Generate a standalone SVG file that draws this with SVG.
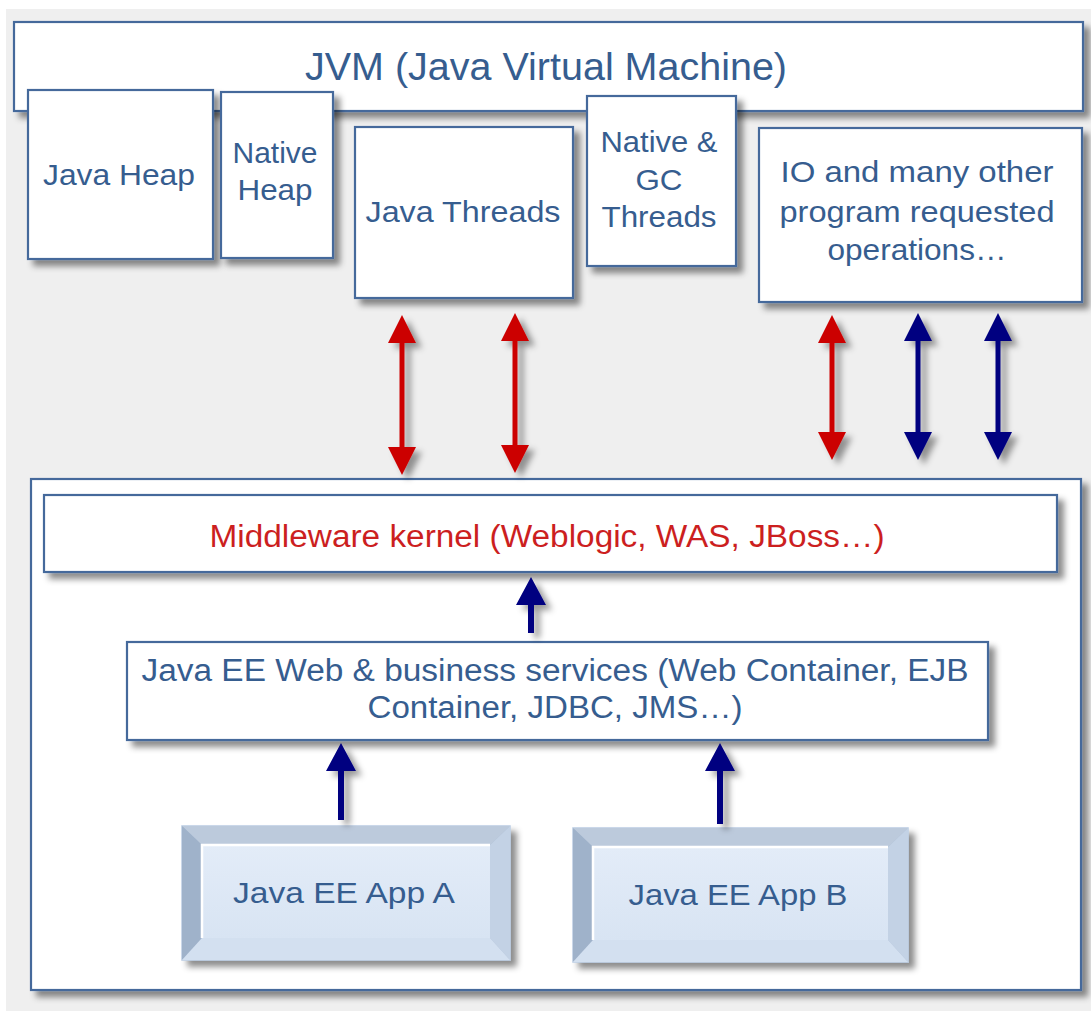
<svg xmlns="http://www.w3.org/2000/svg" width="1091" height="1011" viewBox="0 0 1091 1011">
<defs>
<filter id="sh" x="-10%" y="-10%" width="130%" height="130%">
<feDropShadow dx="6" dy="6" stdDeviation="3" flood-color="#000" flood-opacity="0.45"/>
</filter>
<filter id="ash" x="-50%" y="-10%" width="250%" height="130%">
<feDropShadow dx="6" dy="5" stdDeviation="3" flood-color="#000" flood-opacity="0.4"/>
</filter>
<linearGradient id="face" x1="0" y1="0" x2="0" y2="1">
<stop offset="0" stop-color="#e3ecf8"/>
<stop offset="1" stop-color="#d8e4f3"/>
</linearGradient>
</defs>
<style>
.box{fill:#fff;stroke:#44699b;stroke-width:2.2}
.t{font-family:"Liberation Sans",Arial,sans-serif;fill:#365d8f;text-anchor:middle}
.red{fill:#cc1f1f}
.ar{fill:#cc0000}
.ab{fill:#000080}
</style>
<rect x="6" y="9" width="1085" height="1002" fill="#efefef"/>

<g id="jvm">
<rect class="box" x="14" y="22" width="1069" height="89" filter="url(#sh)"/>
<text class="t" x="546" y="80" font-size="38" textLength="482" lengthAdjust="spacingAndGlyphs">JVM (Java Virtual Machine)</text>
</g>
<g id="java-heap">
<rect class="box" x="28" y="90" width="185" height="169" filter="url(#sh)"/>
<text class="t" x="119" y="185" font-size="30" textLength="152" lengthAdjust="spacingAndGlyphs">Java Heap</text>
</g>
<g id="native-heap">
<rect class="box" x="221" y="92" width="112" height="166" filter="url(#sh)"/>
<text class="t" x="275" y="163" font-size="30" textLength="85" lengthAdjust="spacingAndGlyphs">Native</text>
<text class="t" x="275" y="200" font-size="30" textLength="75" lengthAdjust="spacingAndGlyphs">Heap</text>
</g>
<g id="java-threads">
<rect class="box" x="355" y="127" width="218" height="171" filter="url(#sh)"/>
<text class="t" x="463" y="222" font-size="30" textLength="195" lengthAdjust="spacingAndGlyphs">Java Threads</text>
</g>
<g id="native-gc-threads">
<rect class="box" x="587" y="96" width="149" height="170" filter="url(#sh)"/>
<text class="t" x="659" y="152" font-size="30" textLength="117" lengthAdjust="spacingAndGlyphs">Native &amp;</text>
<text class="t" x="659" y="190" font-size="30" textLength="47" lengthAdjust="spacingAndGlyphs">GC</text>
<text class="t" x="659" y="227" font-size="30" textLength="115" lengthAdjust="spacingAndGlyphs">Threads</text>
</g>
<g id="io-ops">
<rect class="box" x="759" y="128" width="323" height="174" filter="url(#sh)"/>
<text class="t" x="917" y="182" font-size="30" textLength="273" lengthAdjust="spacingAndGlyphs">IO and many other</text>
<text class="t" x="917" y="222" font-size="30" textLength="275" lengthAdjust="spacingAndGlyphs">program requested</text>
<text class="t" x="917" y="260" font-size="30" textLength="179" lengthAdjust="spacingAndGlyphs">operations…</text>
</g>

<g id="middleware-container">
<rect class="box" x="31" y="479" width="1050" height="511" filter="url(#sh)"/>
</g>
<g id="middleware-kernel">
<rect class="box" x="44" y="495" width="1013" height="77" filter="url(#sh)"/>
<text class="t red" x="547" y="547" font-size="31" textLength="675" lengthAdjust="spacingAndGlyphs">Middleware kernel (Weblogic, WAS, JBoss…)</text>
</g>
<g id="javaee-services">
<rect class="box" x="127" y="642" width="861" height="98" filter="url(#sh)"/>
<text class="t" x="555" y="681" font-size="31" textLength="827" lengthAdjust="spacingAndGlyphs">Java EE Web &amp; business services (Web Container, EJB</text>
<text class="t" x="555" y="718" font-size="31" textLength="375" lengthAdjust="spacingAndGlyphs">Container, JDBC, JMS…)</text>
</g>
<g id="app-a">
<g filter="url(#sh)">
<rect x="182" y="826" width="328" height="134" fill="#a9bbd2" stroke="#b9cbe2" stroke-width="1.5"/>
<polygon points="182,826 510,826 490,845 202,845" fill="#bccadc"/>
<polygon points="182,826 202,845 202,938 182,960" fill="#9fb2ca"/>
<polygon points="510,826 510,960 490,938 490,845" fill="#c3d2e5"/>
<polygon points="182,960 202,938 490,938 510,960" fill="#d3e0f0"/>
<rect x="202" y="845" width="288" height="93" fill="url(#face)"/>
<polyline points="202,938 202,845 490,845" fill="none" stroke="#fff" stroke-width="2.5"/>
</g>
<text class="t" x="344" y="903" font-size="30" textLength="222" lengthAdjust="spacingAndGlyphs">Java EE App A</text>
</g>
<g id="app-b">
<g filter="url(#sh)">
<rect x="573" y="828" width="335" height="134" fill="#a9bbd2" stroke="#b9cbe2" stroke-width="1.5"/>
<polygon points="573,828 908,828 888,847 593,847" fill="#bccadc"/>
<polygon points="573,828 593,847 593,940 573,962" fill="#9fb2ca"/>
<polygon points="908,828 908,962 888,940 888,847" fill="#c3d2e5"/>
<polygon points="573,962 593,940 888,940 908,962" fill="#d3e0f0"/>
<rect x="593" y="847" width="295" height="93" fill="url(#face)"/>
<polyline points="593,940 593,847 888,847" fill="none" stroke="#fff" stroke-width="2.5"/>
</g>
<text class="t" x="738" y="905" font-size="30" textLength="219" lengthAdjust="spacingAndGlyphs">Java EE App B</text>
</g>

<g id="connectors" filter="url(#ash)">
<path class="ar" d="M402,315 L416,343 L404.5,343 L404.5,447 L416,447 L402,475 L388,447 L399.5,447 L399.5,343 L388,343 Z"/>
<path class="ar" d="M515,313 L529,341 L517.5,341 L517.5,445 L529,445 L515,473 L501,445 L512.5,445 L512.5,341 L501,341 Z"/>
<path class="ar" d="M832,315 L846,343 L834.5,343 L834.5,432 L846,432 L832,460 L818,432 L829.5,432 L829.5,343 L818,343 Z"/>
<path class="ab" d="M918,313 L932,341 L920.5,341 L920.5,432 L932,432 L918,460 L904,432 L915.5,432 L915.5,341 L904,341 Z"/>
<path class="ab" d="M998,313 L1012,341 L1000.5,341 L1000.5,432 L1012,432 L998,460 L984,432 L995.5,432 L995.5,341 L984,341 Z"/>
<path class="ab" d="M531,577 L546,605 L534,605 L534,633 L528,633 L528,605 L516,605 Z"/>
<path class="ab" d="M341,743 L356,771 L344,771 L344,820 L338,820 L338,771 L326,771 Z"/>
<path class="ab" d="M720,743 L735,771 L723,771 L723,824 L717,824 L717,771 L705,771 Z"/>
</g>
</svg>
